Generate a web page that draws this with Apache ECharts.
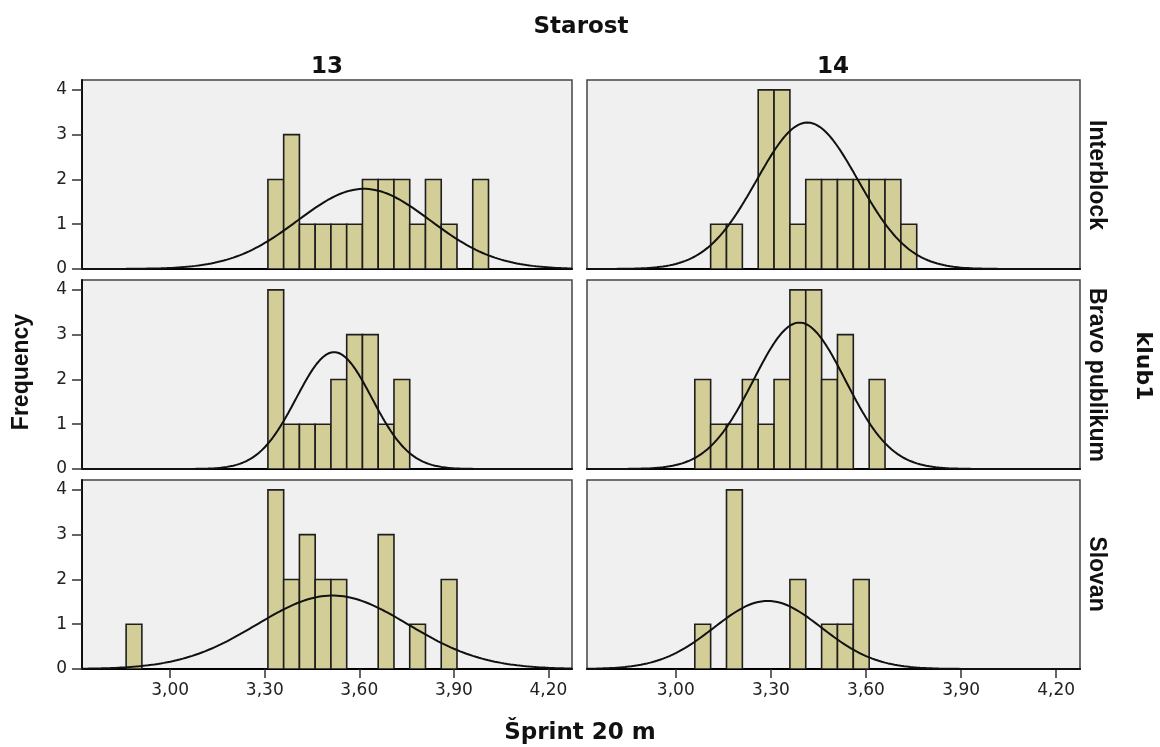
<!DOCTYPE html>
<html>
<head>
<meta charset="utf-8">
<title>Šprint 20 m</title>
<script src="https://cdn.jsdelivr.net/npm/echarts@6/dist/echarts.min.js"></script>
<style>
  html, body { margin: 0; padding: 0; background: #fff; }
  #chart { width: 1160px; height: 747px; }
</style>
</head>
<body>
<div id="chart"></div>
<script>
// data
const ages = ['13', '14']
const clubs = ['Interblock', 'Bravo publikum', 'Slovan']
const binWidth = 0.05
const xTicks = [3.0, 3.3, 3.6, 3.9, 4.2]
const yTicks = [0, 1, 2, 3, 4]

// counts per 0.05 bin, starting at the lower edge in firstBin
const interblock13 = [2, 3, 1, 1, 1, 1, 2, 2, 2, 1, 2, 1, 0, 2]
const interblock14 = [1, 1, 0, 4, 4, 1, 2, 2, 2, 2, 2, 2, 1]
const bravo13 = [4, 1, 1, 1, 2, 3, 3, 1, 2]
const bravo14 = [2, 1, 1, 2, 1, 2, 4, 4, 2, 3, 0, 2]
const slovan13 = [1, 0, 0, 0, 0, 0, 0, 0, 0, 4, 2, 3, 2, 2, 0, 0, 3, 0, 1, 0, 2]
const slovan14 = [1, 0, 4, 0, 0, 0, 2, 0, 1, 1, 2]
const firstBin = [3.31, 3.11, 3.31, 3.06, 2.86, 3.06]

// normal curve overlay: mean, sd and peak height
const curveMean = [3.615, 3.415, 3.52, 3.39, 3.515, 3.29]
const curveSd = [0.21, 0.16, 0.12, 0.145, 0.24, 0.17]
const curvePeak = [1.79, 3.27, 2.61, 3.27, 1.64, 1.52]

const panelCounts = [interblock13, interblock14, bravo13, bravo14, slovan13, slovan14]

const xMin = 2.72
const xMax = 4.275

const chart = echarts.init(document.getElementById('chart'))

const grids = []
const xAxes = []
const yAxes = []
const series = []

const fmt = v => v.toFixed(2).replace('.', ',')

panelCounts.forEach((counts, i) => {
  const row = Math.floor(i / 2)
  const col = i % 2
  const isBottom = row === 2
  const isLeft = col === 0

  grids.push({
    left: isLeft ? 82 : 587,
    width: isLeft ? 490 : 493,
    top: 80 + row * 200,
    height: 189,
    show: true,
    backgroundColor: '#f0f0f0',
    borderColor: '#444',
    borderWidth: 1.5
  })

  xAxes.push({
    type: 'value',
    gridIndex: i,
    min: xMin,
    max: xMax,
    splitLine: { show: false },
    axisLine: { show: true, lineStyle: { color: '#000', width: 2 } },
    axisTick: {
      show: isBottom,
      customValues: xTicks,
      length: 9,
      lineStyle: { color: '#333', width: 1.5 }
    },
    axisLabel: {
      show: isBottom,
      customValues: xTicks,
      formatter: fmt,
      margin: 13,
      color: '#222',
      fontSize: 17,
      fontFamily: 'DejaVu Sans'
    }
  })

  yAxes.push({
    type: 'value',
    gridIndex: i,
    min: 0,
    max: 4.22,
    splitLine: { show: false },
    axisLine: { show: isLeft, lineStyle: { color: '#111', width: 2 } },
    axisTick: {
      show: isLeft,
      customValues: yTicks,
      length: 10,
      lineStyle: { color: '#333', width: 1.5 }
    },
    axisLabel: {
      show: isLeft,
      customValues: yTicks,
      margin: 15,
      color: '#222',
      fontSize: 17,
      fontFamily: 'DejaVu Sans'
    }
  })

  // histogram bars
  const bars = []
  counts.forEach((c, k) => {
    if (c > 0) {
      const x0 = firstBin[i] + k * binWidth
      bars.push([x0, x0 + binWidth, c])
    }
  })
  series.push({
    type: 'custom',
    xAxisIndex: i,
    yAxisIndex: i,
    clip: true,
    encode: { x: [0, 1], y: 2 },
    data: bars,
    renderItem: (params, api) => {
      const top = api.coord([api.value(0), api.value(2)])
      const bottom = api.coord([api.value(1), 0])
      return {
        type: 'rect',
        shape: {
          x: top[0],
          y: top[1],
          width: bottom[0] - top[0],
          height: bottom[1] - top[1]
        },
        style: { fill: '#d3ce97', stroke: '#1e1e1e', lineWidth: 1.6 }
      }
    }
  })

  // normal curve
  const pts = []
  for (let x = xMin; x <= xMax + 1e-9; x += 0.005) {
    const d = x - curveMean[i]
    pts.push([x, curvePeak[i] * Math.exp(-d * d / (2 * curveSd[i] * curveSd[i]))])
  }
  series.push({
    type: 'line',
    xAxisIndex: i,
    yAxisIndex: i,
    data: pts,
    showSymbol: false,
    silent: true,
    lineStyle: { color: '#111', width: 2 },
    z: 5
  })
})

const boldText = (text, x, y, size, rotation, family) => ({
  type: 'text',
  x: x,
  y: y,
  rotation: rotation,
  style: {
    text: text,
    align: 'center',
    verticalAlign: 'middle',
    fill: '#111',
    font: 'bold ' + size + 'px ' + (family || '"DejaVu Sans"')
  }
})

const graphics = [
  boldText('Starost', 581, 27, 23, 0),
  boldText(ages[0], 327, 67, 23, 0),
  boldText(ages[1], 833, 67, 23, 0),
  boldText(clubs[0], 1096, 175, 23, -Math.PI / 2, '"Liberation Sans"'),
  boldText(clubs[1], 1096, 375, 23, -Math.PI / 2, '"Liberation Sans"'),
  boldText(clubs[2], 1096, 574, 23, -Math.PI / 2, '"Liberation Sans"'),
  boldText('klub1', 1143, 366, 22, -Math.PI / 2, '"DejaVu Sans"'),
  boldText('Frequency', 22, 372, 23, Math.PI / 2, '"Liberation Sans"'),
  boldText('Šprint 20 m', 580, 733, 23, 0)
]

chart.setOption({
  animation: false,
  backgroundColor: '#ffffff',
  grid: grids,
  xAxis: xAxes,
  yAxis: yAxes,
  series: series,
  graphic: graphics
})
</script>
</body>
</html>
